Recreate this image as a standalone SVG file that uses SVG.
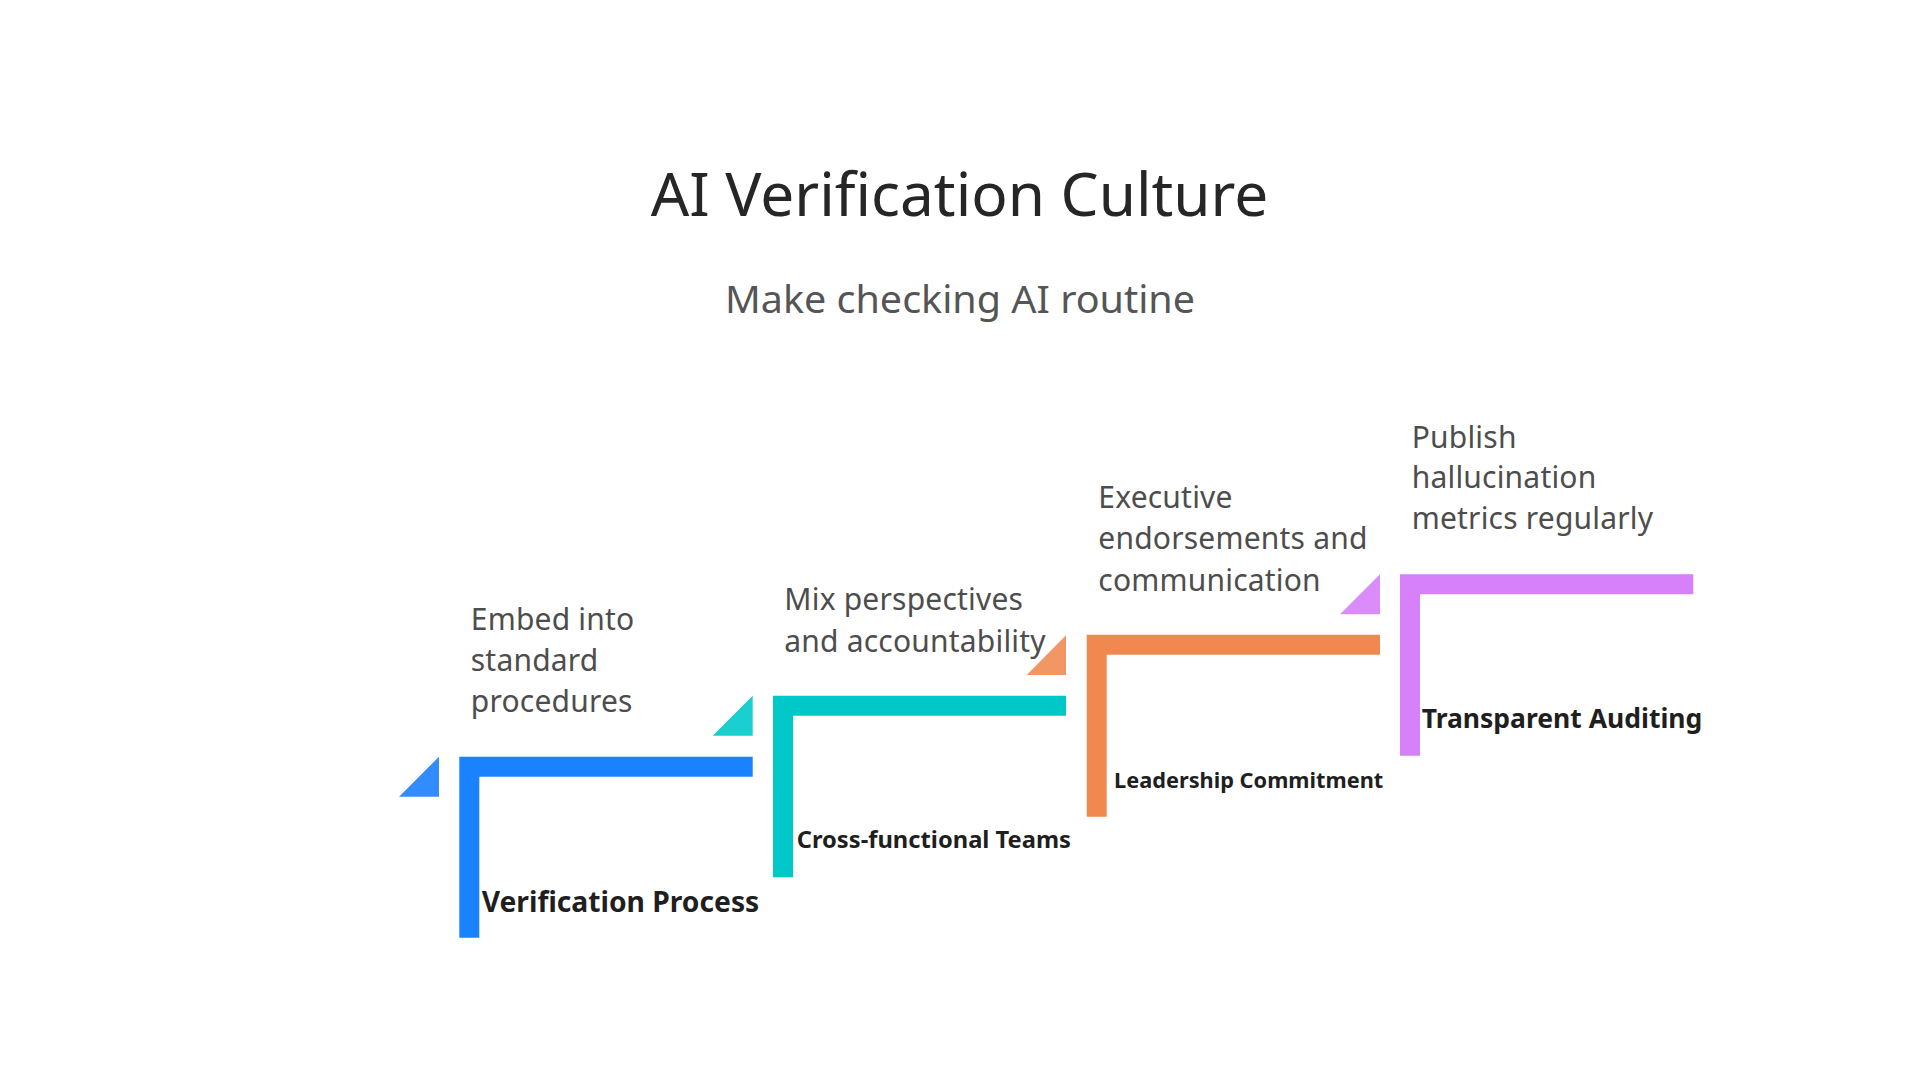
<svg xmlns="http://www.w3.org/2000/svg" width="1920" height="1080" viewBox="0 0 1920 1080">
<style>
  .title{font-family:"Noto Sans","Open Sans","DejaVu Sans",sans-serif;font-size:60.5px;fill:#262626;text-anchor:middle}
  .sub{font-family:"Noto Sans","Open Sans","DejaVu Sans",sans-serif;font-size:38.5px;fill:#555555;text-anchor:middle}
  .desc{font-family:"Noto Sans","Open Sans","DejaVu Sans",sans-serif;font-size:30px;fill:#4d4d4d;letter-spacing:0.2px}
  .lbl{font-family:"Noto Sans","Open Sans","DejaVu Sans",sans-serif;font-weight:700;fill:#1f1f1f}
</style>
<rect width="1920" height="1080" fill="#ffffff"/>
<text class="title" x="959.5" y="215.7" textLength="617.6" lengthAdjust="spacingAndGlyphs">AI Verification Culture</text>
<text class="sub" x="960" y="312.7" textLength="470" lengthAdjust="spacingAndGlyphs">Make checking AI routine</text>

<g id="step-verification-process">
  <path d="M459.3,756.7 H752.7 V776.7 H479.3 V937.7 H459.3 Z" fill="#1A82FF"/>
  <polygon points="399,796.7 439,756.7 439,796.7" fill="#308CFF"/>
  <text class="desc" x="470.8"><tspan x="470.8" y="630">Embed into</tspan><tspan x="470.8" y="670.7">standard</tspan><tspan x="470.8" y="711.7">procedures</tspan></text>
  <text class="lbl" x="481.7" y="912" font-size="28" textLength="277.6" lengthAdjust="spacingAndGlyphs">Verification Process</text>
</g>

<g id="step-cross-functional-teams">
  <path d="M773,695.7 H1066 V715.7 H793 V877.3 H773 Z" fill="#00C8C8"/>
  <polygon points="712.7,735.7 752.7,695.7 752.7,735.7" fill="#19CFCF"/>
  <text class="desc" x="784.3"><tspan x="784.3" y="610">Mix perspectives</tspan><tspan x="784.3" y="651.5">and accountability</tspan></text>
  <text class="lbl" x="796.7" y="848.3" font-size="23.3" textLength="274.3" lengthAdjust="spacingAndGlyphs">Cross-functional Teams</text>
</g>

<g id="step-leadership-commitment">
  <path d="M1086.7,634.7 H1380 V654.7 H1106.7 V816.7 H1086.7 Z" fill="#F08850"/>
  <polygon points="1026.7,675 1066,635.3 1066,675" fill="#F29664"/>
  <text class="desc" x="1098.3"><tspan x="1098.3" y="507.5">Executive</tspan><tspan x="1098.3" y="549">endorsements and</tspan><tspan x="1098.3" y="590.5">communication</tspan></text>
  <text class="lbl" x="1114" y="788.3" font-size="21.6" textLength="269.3" lengthAdjust="spacingAndGlyphs">Leadership Commitment</text>
</g>

<g id="step-transparent-auditing">
  <path d="M1400,574.3 H1693.3 V594.3 H1420 V755.7 H1400 Z" fill="#D680FA"/>
  <polygon points="1340,614.3 1380,574.3 1380,614.3" fill="#DA8CFA"/>
  <text class="desc" x="1411.7"><tspan x="1411.7" y="448.3">Publish</tspan><tspan x="1411.7" y="488">hallucination</tspan><tspan x="1411.7" y="529.3">metrics regularly</tspan></text>
  <text class="lbl" x="1421.7" y="727.7" font-size="26.5" textLength="280.6" lengthAdjust="spacingAndGlyphs">Transparent Auditing</text>
</g>

<g id="connectors"></g>
</svg>
